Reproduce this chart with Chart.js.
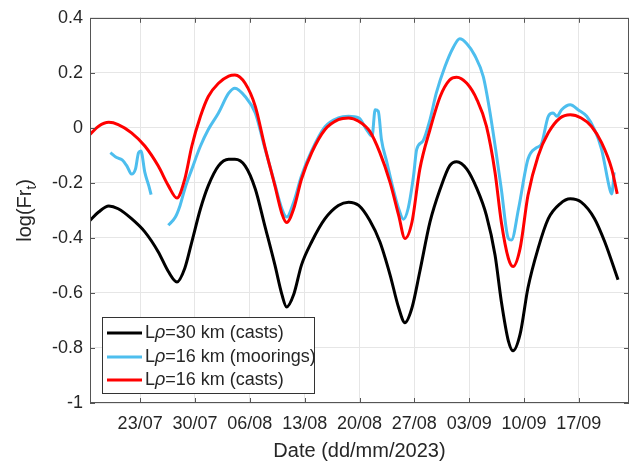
<!DOCTYPE html>
<html>
<head>
<meta charset="utf-8">
<script src="https://cdn.jsdelivr.net/npm/chart.js@4.4.0/dist/chart.umd.min.js"></script>
<style>
  html, body { margin: 0; padding: 0; background: #fff; }
  #wrap { width: 632px; height: 463px; }
</style>
</head>
<body>
<div id="wrap"><canvas id="chartFr"></canvas></div>
<script>
// x values are days after 23/07/2023
const tickDays = [0, 7, 14, 21, 28, 35, 42, 49, 56];
const tickLabels = ['23/07', '30/07', '06/08', '13/08', '20/08', '27/08', '03/09', '10/09', '17/09'];
const yTicks = [-1, -0.8, -0.6, -0.4, -0.2, 0, 0.2, 0.4];

// L rho = 30 km (casts)
const blackDays = [-6.4, -5.3, -4.0, -2.8, -1.1, 0.6, 2.3, 3.6, 4.7, 5.7, 6.6, 7.7, 8.7, 10.0, 11.3, 12.1, 13.4, 14.7, 15.9, 17.2,
  18.1, 18.7, 19.6, 20.6, 21.9, 23.6, 25.3, 26.6, 27.9, 29.3, 30.6, 31.9, 33.0, 33.8, 34.7, 35.7, 37.0, 38.3, 39.5, 40.4,
  41.7, 43.0, 44.2, 45.3, 46.1, 47.0, 47.6, 48.5, 49.5, 50.8, 52.1, 53.6, 54.9, 56.3, 58.0, 59.3, 61.0];
const blackVals = [-0.336, -0.306, -0.284, -0.294, -0.330, -0.378, -0.450, -0.522, -0.560, -0.510, -0.414, -0.294, -0.210, -0.138, -0.114, -0.114, -0.138, -0.222, -0.354, -0.498,
  -0.606, -0.651, -0.606, -0.498, -0.414, -0.330, -0.282, -0.270, -0.282, -0.336, -0.414, -0.534, -0.654, -0.708, -0.654, -0.522, -0.342, -0.222, -0.138, -0.123,
  -0.150, -0.222, -0.318, -0.462, -0.630, -0.774, -0.810, -0.750, -0.582, -0.438, -0.330, -0.276, -0.258, -0.270, -0.330, -0.414, -0.552];

// L rho = 16 km (moorings), null = gap in the record
const blueDays = [-3.8, -3.0, -2.3, -1.7, -1.1, -0.6, -0.2, 0.1, 0.6, 1.1, 1.4, 2.5, 3.6, 4.5, 5.1, 5.7, 6.6, 7.7, 8.7, 10.0,
  11.3, 12.1, 13.4, 14.7, 15.9, 17.2, 18.1, 18.7, 19.6, 20.6, 21.9, 23.6, 25.3, 26.6, 27.9, 28.9, 29.6, 30.0, 30.4, 30.8,
  31.5, 32.3, 33.0, 33.6, 34.2, 34.9, 35.3, 36.1, 37.0, 37.8, 38.9, 40.0, 40.8, 41.7, 42.7, 43.8, 44.6, 45.5, 46.1, 47.0,
  47.4, 48.3, 49.5, 50.6, 51.2, 52.1, 52.7, 53.2, 53.8, 54.9, 55.9, 57.0, 58.0, 58.9, 60.0, 60.2, 60.5];
const blueVals = [-0.090, -0.108, -0.116, -0.138, -0.168, -0.150, -0.090, -0.084, -0.162, -0.210, -0.243, null, -0.354, -0.324, -0.282, -0.222, -0.150, -0.066, -0.006, 0.054,
  0.126, 0.144, 0.114, 0.054, -0.072, -0.205, -0.295, -0.324, -0.270, -0.174, -0.083, 0.004, 0.036, 0.042, 0.036, -0.006, -0.030, 0.066, 0.060, -0.042,
  -0.126, -0.222, -0.294, -0.332, -0.294, -0.174, -0.078, -0.048, 0.030, 0.126, 0.222, 0.294, 0.324, 0.306, 0.264, 0.186, 0.066, -0.102, -0.222, -0.402,
  -0.408, -0.294, -0.114, -0.072, -0.060, 0.042, 0.054, 0.042, 0.066, 0.084, 0.066, 0.042, -0.006, -0.078, -0.228, -0.240, -0.162];

// L rho = 16 km (casts)
const redDays = [-6.4, -5.3, -4.0, -2.8, -1.1, 0.6, 2.3, 3.6, 4.7, 5.7, 6.6, 7.7, 8.7, 10.0, 11.3, 12.1, 13.4, 14.7, 15.9, 17.2,
  18.1, 18.7, 19.6, 20.6, 21.9, 23.6, 25.3, 26.6, 27.9, 29.3, 30.6, 31.9, 33.0, 33.8, 34.7, 35.7, 37.0, 38.3, 39.5, 40.4,
  41.7, 43.0, 44.2, 45.3, 46.1, 47.0, 47.6, 48.5, 49.5, 50.8, 52.1, 53.6, 54.9, 56.3, 57.6, 58.9, 60.2, 60.9];
const redVals = [-0.024, 0.006, 0.020, 0.012, -0.018, -0.066, -0.138, -0.210, -0.255, -0.186, -0.066, 0.042, 0.114, 0.162, 0.188, 0.192, 0.162, 0.078, -0.066, -0.210,
  -0.312, -0.344, -0.294, -0.186, -0.090, -0.006, 0.030, 0.036, 0.024, -0.012, -0.090, -0.198, -0.318, -0.402, -0.342, -0.150, -0.006, 0.114, 0.174, 0.184,
  0.162, 0.102, 0.006, -0.162, -0.342, -0.474, -0.504, -0.438, -0.246, -0.102, -0.018, 0.036, 0.048, 0.036, 0.006, -0.054, -0.150, -0.240];

const seriesNames = ['L\u03c1=30 km (casts)', 'L\u03c1=16 km (moorings)', 'L\u03c1=16 km (casts)'];
const seriesColors = ['#000000', '#4dbeee', '#ff0000'];

const FONT = '"Liberation Sans", Arial, sans-serif';
const TEXT = '#262626';

function toPoints(days, vals) {
    return days.map((d, i) => ({ x: d, y: vals[i] }));
}

// box, inward ticks, axis titles and legend
const frameAndText = {
    id: 'frameAndText',
    afterDatasetsDraw(chart) {
        const { ctx, chartArea: a, scales } = chart;
        ctx.save();
        ctx.strokeStyle = '#555';
        ctx.lineWidth = 1;
        ctx.beginPath();
        tickDays.forEach(d => {
            const x = Math.round(scales.x.getPixelForValue(d)) + 0.5;
            ctx.moveTo(x, a.bottom); ctx.lineTo(x, a.bottom - 5);
            ctx.moveTo(x, a.top); ctx.lineTo(x, a.top + 5);
        });
        yTicks.forEach(v => {
            const y = Math.round(scales.y.getPixelForValue(v)) + 0.5;
            ctx.moveTo(a.left, y); ctx.lineTo(a.left + 5, y);
            ctx.moveTo(a.right, y); ctx.lineTo(a.right - 5, y);
        });
        ctx.stroke();
        ctx.strokeRect(Math.round(a.left) + 0.5, Math.round(a.top) + 0.5,
            Math.round(a.right - a.left) - 1, Math.round(a.bottom - a.top) - 1);
        ctx.restore();
    },
    afterDraw(chart) {
        const { ctx, chartArea: a } = chart;
        ctx.save();
        ctx.fillStyle = TEXT;

        // x title
        ctx.font = '20px ' + FONT;
        ctx.textAlign = 'center';
        ctx.textBaseline = 'middle';
        ctx.fillText('Date (dd/mm/2023)', (a.left + a.right) / 2, 451);

        // y title with subscript t
        ctx.save();
        ctx.translate(31, (a.top + a.bottom) / 2);
        ctx.rotate(-Math.PI / 2);
        ctx.textAlign = 'left';
        ctx.textBaseline = 'alphabetic';
        const big = '20px ' + FONT, small = '14px ' + FONT;
        ctx.font = big;
        const w1 = ctx.measureText('log(Fr').width;
        const w3 = ctx.measureText(')').width;
        ctx.font = small;
        const w2 = ctx.measureText('t').width;
        let x0 = -(w1 + w2 + w3) / 2;
        ctx.font = big;
        ctx.fillText('log(Fr', x0, 0);
        ctx.font = small;
        ctx.fillText('t', x0 + w1, 5);
        ctx.font = big;
        ctx.fillText(')', x0 + w1 + w2, 0);
        ctx.restore();

        // legend
        const bx = 102, by = 317, bw = 212, bh = 76;
        ctx.fillStyle = '#fff';
        ctx.fillRect(bx, by, bw, bh);
        ctx.strokeStyle = '#333';
        ctx.lineWidth = 1;
        ctx.strokeRect(bx + 0.5, by + 0.5, bw, bh);
        const rows = [333, 357, 380];
        seriesNames.forEach((name, i) => {
            const y = rows[i];
            ctx.strokeStyle = seriesColors[i];
            ctx.lineWidth = 3;
            ctx.beginPath();
            ctx.moveTo(107, y); ctx.lineTo(142, y);
            ctx.stroke();
            const parts = name.split('\u03c1');
            ctx.fillStyle = TEXT;
            ctx.textAlign = 'left';
            ctx.textBaseline = 'middle';
            let x = 145;
            ctx.font = '18px ' + FONT;
            ctx.fillText(parts[0], x, y);
            x += ctx.measureText(parts[0]).width;
            ctx.font = 'italic 18px ' + FONT;
            ctx.fillText('\u03c1', x, y);
            x += ctx.measureText('\u03c1').width;
            ctx.font = '18px ' + FONT;
            ctx.fillText(parts[1], x, y);
        });
        ctx.restore();
    }
};

const allDays = [blackDays, blueDays, redDays];
const allVals = [blackVals, blueVals, redVals];

new Chart(document.getElementById('chartFr').getContext('2d'), {
    type: 'line',
    data: {
        datasets: seriesNames.map((name, i) => ({
            label: name,
            data: toPoints(allDays[i], allVals[i]),
            borderColor: seriesColors[i],
            backgroundColor: seriesColors[i],
            borderWidth: 3,
            pointRadius: 0,
            cubicInterpolationMode: 'monotone',
            spanGaps: false,
            fill: false,
            order: 2 - i
        }))
    },
    options: {
        responsive: true,
        maintainAspectRatio: false,
        animation: false,
        layout: { padding: { top: 14, right: 3, left: 0, bottom: 0 } },
        plugins: { legend: { display: false }, tooltip: { enabled: false } },
        scales: {
            x: {
                type: 'linear',
                min: -6.4,
                max: 62.4,
                afterBuildTicks: s => { s.ticks = tickDays.map(v => ({ value: v })); },
                afterFit: s => { s.height = 60; },
                grid: { color: '#e6e6e6', drawTicks: false },
                border: { display: false },
                ticks: {
                    padding: 10,
                    maxRotation: 0,
                    autoSkip: false,
                    color: TEXT,
                    font: { family: FONT, size: 18 },
                    callback: v => tickLabels[tickDays.indexOf(v)]
                }
            },
            y: {
                min: -1,
                max: 0.4,
                afterBuildTicks: s => { s.ticks = yTicks.map(v => ({ value: v })); },
                afterFit: s => { s.width = 90; },
                grid: { color: '#e6e6e6', drawTicks: false },
                border: { display: false },
                ticks: {
                    padding: 7,
                    color: TEXT,
                    font: { family: FONT, size: 18 },
                    callback: v => String(Math.round(v * 10) / 10)
                }
            }
        }
    },
    plugins: [frameAndText]
});
</script>
</body>
</html>
